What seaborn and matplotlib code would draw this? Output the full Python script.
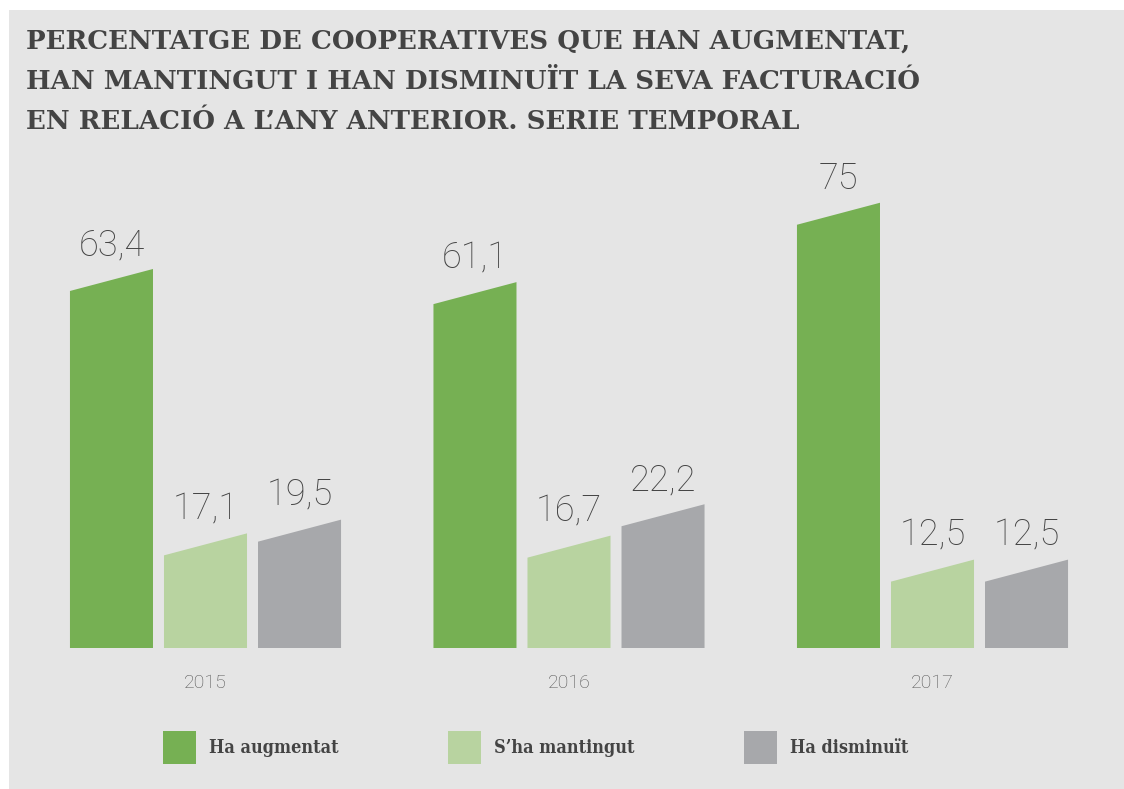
import matplotlib
matplotlib.use("Agg")
import matplotlib.pyplot as plt
from matplotlib.patches import Polygon, Rectangle, Patch
import seaborn as sns
import pandas as pd

# ---- data ----
years = ["2015", "2016", "2017"]
series = ["Ha augmentat", "S\u2019ha mantingut", "Ha disminuït"]
augmentat = [63.4, 61.1, 75.0]
mantingut = [17.1, 16.7, 12.5]
disminuit = [19.5, 22.2, 12.5]
value_labels = {
    "Ha augmentat": ["63,4", "61,1", "75"],
    "S\u2019ha mantingut": ["17,1", "16,7", "12,5"],
    "Ha disminuït": ["19,5", "22,2", "12,5"],
}
title_lines = ["PERCENTATGE DE COOPERATIVES QUE HAN AUGMENTAT,",
               "HAN MANTINGUT I HAN DISMINUÏT LA SEVA FACTURACIÓ",
               "EN RELACIÓ A L\u2019ANY ANTERIOR. SERIE TEMPORAL"]

colors = ["#76B053", "#B8D3A0", "#A7A8AB"]
BG = "#E5E5E5"
TXT = "#444444"

rows = []
for s, vals in zip(series, [augmentat, mantingut, disminuit]):
    for y, v in zip(years, vals):
        rows.append({"year": y, "serie": s, "value": v})
df = pd.DataFrame(rows)

sns.set_theme(style="white")
plt.rcParams["font.family"] = ["DejaVu Sans"]

W, H = 1124, 789
fig = plt.figure(figsize=(W / 100, H / 100), dpi=100, facecolor="white")
fig.patches.append(Rectangle((9 / W, 0), 1 - 9 / W, (H - 10) / H,
                             transform=fig.transFigure, facecolor=BG,
                             edgecolor="none", zorder=-10))

ax_left = 23.75 / W
ax_w = 1090.5 / W
ax_bottom = (H - 648) / H
ax_h = 571 / H
ax = fig.add_axes([ax_left, ax_bottom, ax_w, ax_h])
ax.set_facecolor("none")

sns.barplot(data=df, x="year", y="value", hue="serie", hue_order=series,
            order=years, palette=colors, width=0.776, gap=0.117,
            legend=False, ax=ax, saturation=1)

ax.set_ylim(0, 100)
ax.set_xlim(-0.5, 2.5)

px_per_unit = 571 / 100
left_drop = 5 / px_per_unit
slant = 22 / px_per_unit
label_gap = 14 / px_per_unit

for cont, s, col in zip(ax.containers, series, colors):
    for bar, lab in zip(cont.patches, value_labels[s]):
        x0 = bar.get_x()
        w = bar.get_width()
        v = bar.get_height()
        bar.set_visible(False)
        ytl = v - left_drop
        ytr = ytl + slant
        poly = Polygon([(x0, 0), (x0, ytl), (x0 + w, ytr), (x0 + w, 0)],
                       closed=True, facecolor=col, edgecolor="none")
        ax.add_patch(poly)
        ax.text(x0 + w / 2, ytr + label_gap, lab, ha="center", va="baseline",
                fontsize=26, color=TXT, family="Roboto", fontweight="light")

ax.set_xlabel("")
ax.set_ylabel("")
ax.set_yticks([])
ax.tick_params(axis="x", length=0, pad=18.5)
for t in ax.get_xticklabels():
    t.set_fontsize(14)
    t.set_color("#555555")
    t.set_family("Roboto")
    t.set_fontweight("light")
    t.set_verticalalignment("top")
sns.despine(ax=ax, left=True, bottom=True, top=True, right=True)

for i, line in enumerate(title_lines):
    fig.text(26 / W, 1 - (49 + 40 * i) / H, line, ha="left", va="baseline",
             fontsize=18.8, color=TXT, family="DejaVu Serif",
             fontweight="bold")

handles = [Patch(facecolor=c, edgecolor="none", label=s) for c, s in zip(colors, series)]
leg = fig.legend(handles=handles, loc="center left",
                 bbox_to_anchor=(163 / W, (H - 747.5) / H), ncol=3,
                 frameon=False, borderpad=0, borderaxespad=0,
                 handlelength=33 / 18, handleheight=2.4,
                 handletextpad=0.72, columnspacing=6.05,
                 prop={"family": "DejaVu Serif", "weight": "bold",
                       "stretch": "condensed", "size": 13})
for t in leg.get_texts():
    t.set_color(TXT)

fig.savefig("out.png", dpi=100, facecolor="white")
